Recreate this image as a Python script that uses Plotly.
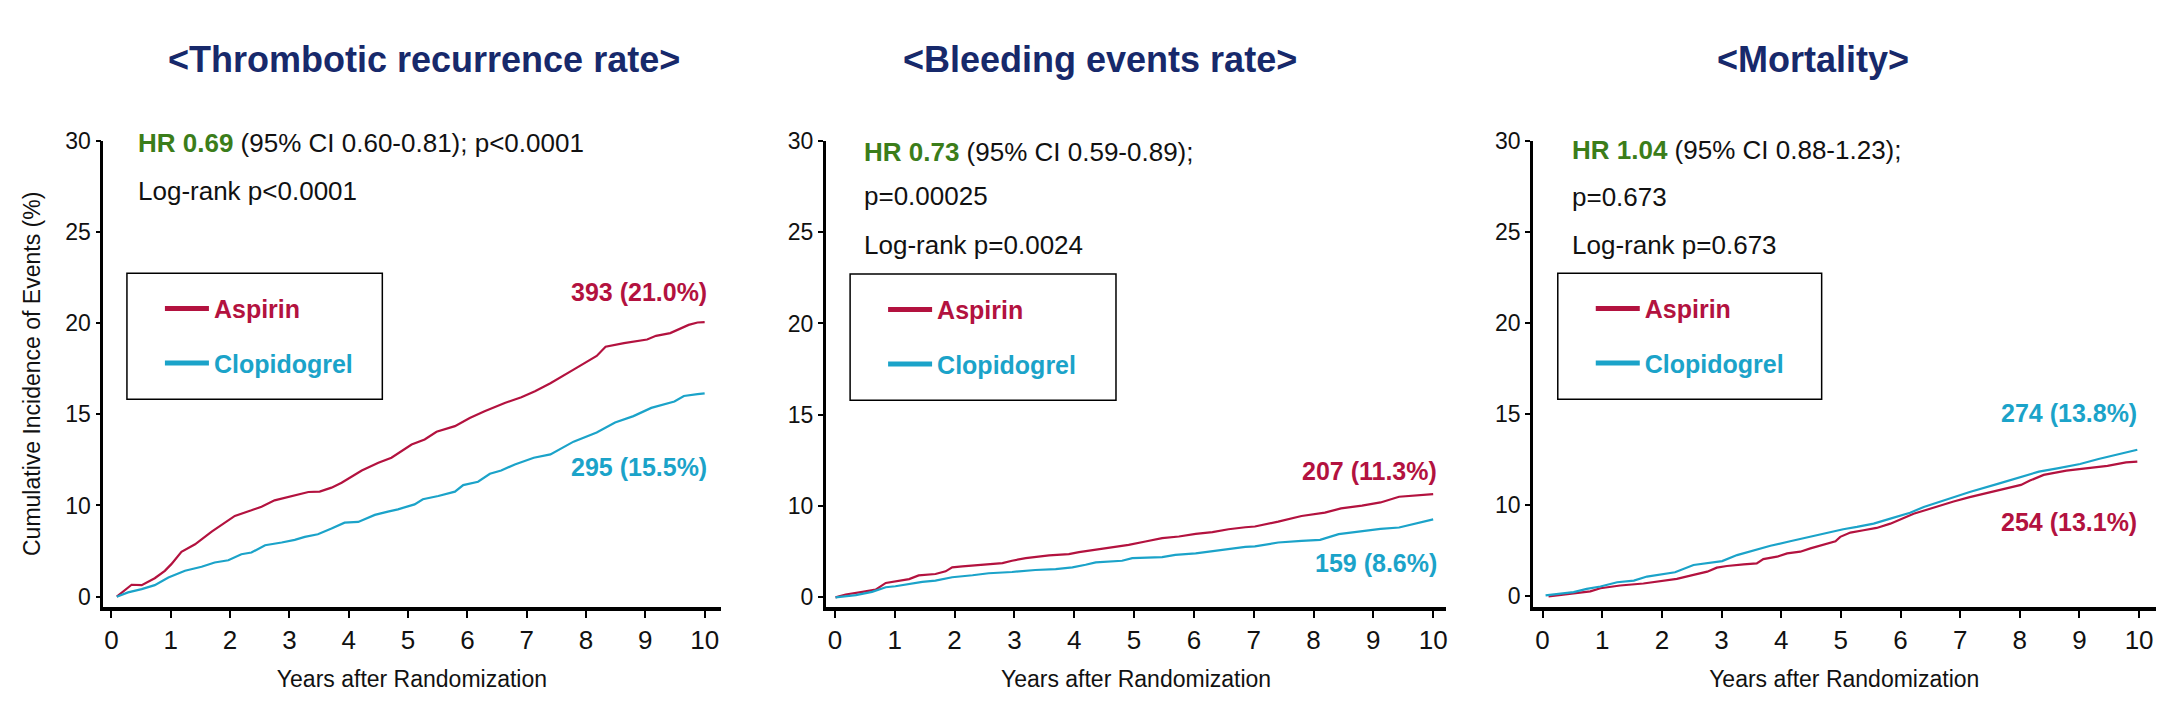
import plotly.graph_objects as go

# ---------------- data (cumulative incidence, % as read on the axis labels) ----------------
years_ticks = [0, 1, 2, 3, 4, 5, 6, 7, 8, 9, 10]
y_tick_labels = [0, 10, 15, 20, 25, 30]

panel_titles = ["&lt;Thrombotic recurrence rate&gt;", "&lt;Bleeding events rate&gt;", "&lt;Mortality&gt;"]
series_names = ["Aspirin", "Clopidogrel"]

thromb_asp_t = [0.09, 0.34, 0.51, 0.73, 0.90, 1.01, 1.18, 1.41, 1.69, 2.08, 2.36, 2.53, 2.75, 3.04, 3.32, 3.51,
                3.71, 3.88, 4.22, 4.50, 4.72, 5.06, 5.28, 5.48, 5.79, 6.04, 6.29, 6.63, 6.91, 7.14, 7.40, 7.79,
                8.18, 8.33, 8.64, 9.03, 9.18, 9.42, 9.73, 9.88, 10.0]
thromb_asp_v = [0, 1.31, 1.27, 2.03, 2.84, 3.57, 4.92, 5.75, 7.14, 8.86, 9.47, 9.87, 10.28, 10.52, 10.74, 10.76,
                10.98, 11.25, 11.92, 12.34, 12.62, 13.34, 13.62, 14.04, 14.35, 14.8, 15.17, 15.62, 15.93, 16.26,
                16.7, 17.45, 18.2, 18.7, 18.9, 19.1, 19.3, 19.45, 19.9, 20.03, 20.05]
thromb_clo_t = [0.09, 0.28, 0.51, 0.73, 0.96, 1.24, 1.52, 1.74, 1.97, 2.19, 2.36, 2.59, 2.87, 3.09, 3.26, 3.48,
                3.71, 3.93, 4.16, 4.44, 4.66, 4.83, 5.11, 5.25, 5.51, 5.79, 5.93, 6.18, 6.38, 6.57, 6.80, 7.12,
                7.40, 7.79, 8.18, 8.49, 8.80, 9.10, 9.49, 9.65, 9.88, 10.0]
thromb_clo_v = [0, 0.47, 0.83, 1.27, 2.11, 2.84, 3.28, 3.75, 4.0, 4.66, 4.84, 5.64, 5.94, 6.23, 6.56, 6.85,
                7.47, 8.12, 8.2, 8.97, 9.33, 9.58, 10.06, 10.34, 10.52, 10.76, 11.12, 11.3, 11.74, 11.92, 12.25,
                12.62, 12.8, 13.5, 14.0, 14.55, 14.9, 15.35, 15.7, 16.0, 16.1, 16.15]

bleed_asp_t = [0.01, 0.18, 0.46, 0.68, 0.85, 1.24, 1.40, 1.68, 1.85, 1.96, 2.13, 2.46, 2.80, 2.96, 3.19, 3.58,
               3.91, 4.08, 4.36, 4.69, 4.91, 5.19, 5.47, 5.75, 6.03, 6.31, 6.58, 6.86, 7.02, 7.41, 7.80, 8.19,
               8.46, 8.81, 9.12, 9.43, 9.74, 10.0]
bleed_asp_v = [0, 0.31, 0.6, 0.85, 1.58, 2.0, 2.4, 2.56, 2.85, 3.29, 3.4, 3.57, 3.76, 4.01, 4.3, 4.6,
               4.74, 4.96, 5.21, 5.58, 5.75, 6.12, 6.48, 6.67, 6.95, 7.14, 7.46, 7.68, 7.76, 8.3, 8.91, 9.28,
               9.75, 10.02, 10.2, 10.51, 10.6, 10.65]
bleed_clo_t = [0.01, 0.35, 0.62, 0.85, 1.01, 1.24, 1.46, 1.68, 1.96, 2.30, 2.57, 2.96, 3.35, 3.69, 3.97, 4.19,
               4.36, 4.80, 4.97, 5.47, 5.69, 6.03, 6.31, 6.58, 6.86, 7.02, 7.41, 7.80, 8.11, 8.42, 8.81, 9.12,
               9.43, 9.66, 10.0]
bleed_clo_v = [0, 0.24, 0.6, 1.11, 1.22, 1.47, 1.69, 1.83, 2.2, 2.42, 2.64, 2.78, 3.0, 3.1, 3.29, 3.57,
               3.83, 4.01, 4.3, 4.41, 4.66, 4.82, 5.04, 5.32, 5.54, 5.58, 6.01, 6.19, 6.3, 6.92, 7.28, 7.5,
               7.65, 8.01, 8.55]

mort_asp_t = [0.10, 0.52, 0.80, 0.97, 1.30, 1.69, 2.03, 2.25, 2.53, 2.76, 2.92, 3.09, 3.37, 3.59, 3.70, 3.93,
              4.10, 4.32, 4.49, 4.71, 4.91, 4.99, 5.16, 5.38, 5.60, 5.83, 5.99, 6.22, 6.44, 6.67, 6.89, 7.16,
              7.63, 8.02, 8.17, 8.40, 8.78, 9.16, 9.47, 9.78, 9.97]
mort_asp_v = [0, 0.28, 0.55, 0.9, 1.2, 1.42, 1.7, 1.92, 2.36, 2.72, 3.16, 3.34, 3.52, 3.63, 4.1, 4.36,
              4.72, 4.91, 5.27, 5.7, 6.06, 6.54, 7.01, 7.26, 7.52, 7.99, 8.46, 9.08, 9.52, 9.99, 10.21, 10.45,
              10.81, 11.12, 11.36, 11.67, 11.9, 12.03, 12.17, 12.36, 12.4]
mort_clo_t = [0.05, 0.30, 0.52, 0.74, 0.97, 1.25, 1.53, 1.75, 2.03, 2.22, 2.53, 2.81, 3.01, 3.26, 3.54, 3.82,
              4.15, 4.49, 4.77, 5.04, 5.27, 5.55, 5.83, 6.16, 6.39, 6.61, 6.83, 7.16, 7.63, 8.02, 8.32, 8.63,
              9.01, 9.32, 9.62, 9.97]
mort_clo_v = [0.11, 0.33, 0.47, 0.83, 1.09, 1.56, 1.74, 2.18, 2.43, 2.65, 3.45, 3.74, 3.88, 4.54, 5.08, 5.56,
              6.06, 6.54, 7.01, 7.37, 7.63, 7.99, 8.54, 9.19, 9.81, 10.14, 10.36, 10.73, 11.18, 11.54, 11.85, 12.03,
              12.27, 12.54, 12.76, 13.05]

hr_labels = ["HR 0.69", "HR 0.73", "HR 1.04"]
stat_lines = [
    ["(95% CI 0.60-0.81); p&lt;0.0001", "Log-rank p&lt;0.0001"],
    ["(95% CI 0.59-0.89);", "p=0.00025", "Log-rank p=0.0024"],
    ["(95% CI 0.88-1.23);", "p=0.673", "Log-rank p=0.673"],
]
end_labels_asp = ["393 (21.0%)", "207 (11.3%)", "254 (13.1%)"]
end_labels_clo = ["295 (15.5%)", "159 (8.6%)", "274 (13.8%)"]

# ---------------- styling ----------------
W, H = 2167, 726
RED = "#b3123f"
BLUE = "#1ba3c9"
GREEN = "#3b7d1a"
NAVY = "#17296b"
INK = "#111111"
FONT = "Liberation Sans, Arial, sans-serif"
TITLE_FONT = "Liberation Sans, Arial, sans-serif"


def fx(px):
    return px / W


def fy(py):
    return 1 - py / H


def to_axis(v):
    # the printed axis has equally spaced ticks labelled 0,10,15,20,25,30
    return v / 2.0 if v <= 10 else v - 5.0


tick_pos = [to_axis(v) for v in y_tick_labels]

# per panel layout (pixel geometry)
panels = [
    dict(x0=103.3, x1=721.0, ytop=130.5, ybot=607.5, xrange=[-0.138, 10.27], yrange=[-0.57, 25],
         title_cx=424, hr_x=136, stat_y=[132.5, 182], leg_box=[127, 266, 382.5, 395],
         end_x=709, asp_y=285, clo_y=464),
    dict(x0=826.1, x1=1447.0, ytop=130.8, ybot=607.8, xrange=[-0.154, 10.22], yrange=[-0.55, 25],
         title_cx=1101, hr_x=862, stat_y=[142, 187, 237], leg_box=[850.5, 267, 1116.5, 396],
         end_x=1440, asp_y=468.5, clo_y=562),
    dict(x0=1533.7, x1=2156.5, ytop=130.8, ybot=607.2, xrange=[-0.161, 10.275], yrange=[-0.57, 25],
         title_cx=1814, hr_x=1571, stat_y=[140, 188, 237], leg_box=[1558.5, 266, 1822.5, 395],
         end_x=2139.5, asp_y=520, clo_y=409.5),
]

curves = [
    (thromb_asp_t, thromb_asp_v, thromb_clo_t, thromb_clo_v),
    (bleed_asp_t, bleed_asp_v, bleed_clo_t, bleed_clo_v),
    (mort_asp_t, mort_asp_v, mort_clo_t, mort_clo_v),
]

fig = go.Figure()
annotations = []
shapes = []
legend_names = ["legend", "legend2", "legend3"]

for i, (p, (at, av, ct, cv)) in enumerate(zip(panels, curves)):
    sx = "" if i == 0 else str(i + 1)
    xa, ya = "x" + sx, "y" + sx
    fig.add_trace(go.Scatter(x=at, y=[to_axis(v) for v in av], mode="lines",
                             line=dict(color=RED, width=2.2), xaxis=xa, yaxis=ya,
                             showlegend=False, hoverinfo="skip"))
    fig.add_trace(go.Scatter(x=ct, y=[to_axis(v) for v in cv], mode="lines",
                             line=dict(color=BLUE, width=2.2), xaxis=xa, yaxis=ya,
                             showlegend=False, hoverinfo="skip"))
    # legend entries
    for name, col in zip(series_names, [RED, BLUE]):
        fig.add_trace(go.Scatter(x=[None], y=[None], mode="lines", line=dict(color=col, width=5),
                                 name=f"<b><span style='color:{col}'>{name}</span></b>",
                                 legend=legend_names[i], legendgroup=name + sx,
                                 xaxis=xa, yaxis=ya, hoverinfo="skip"))

    axis_common = dict(showline=True, linecolor="black", ticks="outside", tickcolor="black",
                       showgrid=False, zeroline=False, fixedrange=True)
    fig.layout["xaxis" + sx] = dict(
        domain=[fx(p["x0"]), fx(p["x1"])], range=p["xrange"], anchor=ya,
        tickvals=years_ticks, ticktext=[str(v) for v in years_ticks],
        linewidth=3.5, tickwidth=2, ticklen=7,
        tickfont=dict(family=FONT, size=26, color=INK),
        title=dict(text="Years after Randomization", font=dict(family=FONT, size=23, color=INK), standoff=18),
        **axis_common)
    fig.layout["yaxis" + sx] = dict(
        domain=[fy(p["ybot"]), fy(p["ytop"])], range=p["yrange"], anchor=xa,
        tickvals=tick_pos, ticktext=[str(v) for v in y_tick_labels],
        linewidth=2.5, tickwidth=1.5, ticklen=5,
        tickfont=dict(family=FONT, size=23, color=INK),
        **axis_common)
    if i == 0:
        fig.layout["yaxis" + sx].title = dict(text="Cumulative Incidence of Events (%)",
                                              font=dict(family=FONT, size=23, color=INK), standoff=19)

    # panel title
    annotations.append(dict(x=fx(p["title_cx"]), y=fy(48), xref="paper", yref="paper",
                            text=f"<b>{panel_titles[i]}</b>", showarrow=False,
                            xanchor="center", yanchor="middle",
                            font=dict(family=TITLE_FONT, size=36, color=NAVY)))
    # statistics text
    lines = stat_lines[i]
    first = f"<b><span style='color:{GREEN}'>{hr_labels[i]}</span></b> {lines[0]}"
    texts = [first] + lines[1:]
    for t, yy in zip(texts, p["stat_y"]):
        annotations.append(dict(x=fx(p["hr_x"]), y=fy(yy), xref="paper", yref="paper", text=t,
                                showarrow=False, xanchor="left", yanchor="middle",
                                font=dict(family=FONT, size=26, color=INK)))
    # end-of-curve labels
    annotations.append(dict(x=fx(p["end_x"]), y=fy(p["asp_y"]), xref="paper", yref="paper",
                            text=f"<b>{end_labels_asp[i]}</b>", showarrow=False,
                            xanchor="right", yanchor="middle",
                            font=dict(family=FONT, size=25, color=RED)))
    annotations.append(dict(x=fx(p["end_x"]), y=fy(p["clo_y"]), xref="paper", yref="paper",
                            text=f"<b>{end_labels_clo[i]}</b>", showarrow=False,
                            xanchor="right", yanchor="middle",
                            font=dict(family=FONT, size=25, color=BLUE)))
    # legend frame
    bx0, by0, bx1, by1 = p["leg_box"]
    shapes.append(dict(type="rect", xref="paper", yref="paper",
                       x0=fx(bx0), x1=fx(bx1), y0=fy(by1), y1=fy(by0),
                       line=dict(color="black", width=1.5), fillcolor="rgba(0,0,0,0)"))
    fig.layout[legend_names[i]] = dict(
        x=fx(bx0 + 33), y=fy(by0 + 13), xanchor="left", yanchor="top",
        bgcolor="rgba(0,0,0,0)", borderwidth=0, itemwidth=44, tracegroupgap=19,
        font=dict(family=FONT, size=25), itemclick=False, itemdoubleclick=False)

fig.update_layout(
    width=W, height=H, margin=dict(l=0, r=0, t=0, b=0),
    paper_bgcolor="white", plot_bgcolor="white",
    annotations=annotations, shapes=shapes, showlegend=True,
)

fig.write_html("out.html", config={"displayModeBar": False},
               post_script="document.body.style.margin='0px';document.body.style.overflow='hidden';")
